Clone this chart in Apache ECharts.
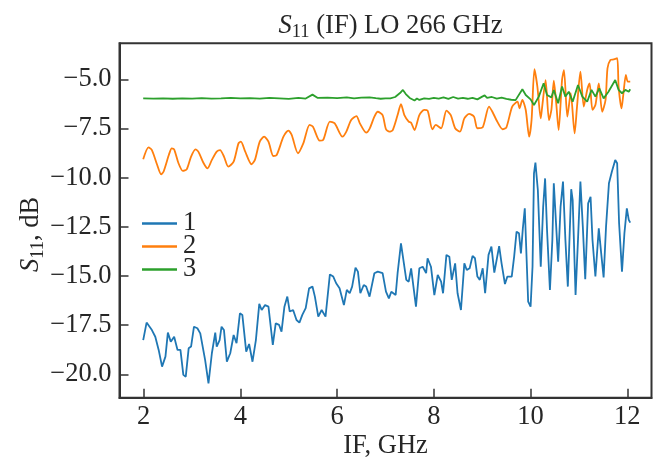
<!DOCTYPE html>
<html>
<head>
<meta charset="utf-8">
<script src="https://cdn.jsdelivr.net/npm/echarts@6/dist/echarts.min.js"></script>
<style>html,body{margin:0;padding:0;background:#fff;}#c{width:656px;height:460px;}</style>
</head>
<body>
<div id="c"></div>
<script>
// ---- data ----
const xTicks = [2, 4, 6, 8, 10, 12];
const yTicks = [-20, -17.5, -15, -12.5, -10, -7.5, -5];
const seriesNames = ['1', '2', '3'];

const x1 = [1.99,2.06,2.10,2.17,2.24,2.31,2.38,2.45,2.50,2.56,2.63,2.70,2.76,2.82,2.87,2.93,2.98,3.04,3.11,3.17,3.27,3.34,3.41,3.48,3.51,3.57,3.61,3.66,3.72,3.79,3.86,3.92,3.99,4.04,4.12,4.18,4.25,4.32,4.39,4.44,4.51,4.58,4.67,4.73,4.80,4.85,4.91,4.97,5.02,5.09,5.16,5.22,5.28,5.35,5.42,5.49,5.54,5.61,5.68,5.76,5.85,5.92,5.98,6.05,6.14,6.20,6.26,6.31,6.38,6.43,6.48,6.55,6.60,6.67,6.77,6.84,6.94,7.01,7.07,7.12,7.21,7.25,7.32,7.36,7.43,7.48,7.53,7.56,7.63,7.70,7.77,7.84,7.87,7.94,8.01,8.08,8.15,8.19,8.26,8.32,8.37,8.44,8.49,8.56,8.63,8.68,8.74,8.80,8.85,8.90,8.95,9.01,9.06,9.13,9.19,9.25,9.29,9.35,9.40,9.47,9.52,9.61,9.66,9.71,9.76,9.80,9.84,9.88,9.91,9.95,10.00,10.04,10.07,10.10,10.15,10.21,10.26,10.30,10.34,10.40,10.45,10.48,10.52,10.57,10.62,10.67,10.72,10.77,10.84,10.87,10.93,10.98,11.03,11.08,11.13,11.19,11.24,11.28,11.34,11.41,11.46,11.51,11.56,11.62,11.65,11.68,11.75,11.79,11.83,11.89,11.94,11.99,12.03,12.06];
const y1 = [-18.26,-17.37,-17.32,-17.75,-18.09,-18.76,-19.61,-19.10,-17.88,-18.34,-18.09,-18.76,-18.76,-20.03,-20.12,-18.68,-18.59,-17.58,-17.66,-17.92,-19.27,-20.46,-18.93,-17.88,-18.59,-18.26,-17.58,-17.75,-19.36,-18.93,-18.00,-18.42,-16.90,-16.98,-18.85,-18.46,-19.36,-18.26,-16.42,-16.73,-16.48,-16.56,-18.51,-17.41,-17.49,-17.83,-16.56,-16.05,-16.81,-16.73,-17.24,-17.37,-16.98,-16.64,-15.63,-15.54,-16.05,-17.07,-16.73,-17.07,-14.92,-15.03,-15.37,-15.63,-16.48,-15.71,-15.88,-15.54,-14.58,-14.78,-15.88,-15.46,-15.54,-16.05,-14.86,-14.78,-14.86,-15.80,-16.14,-15.80,-15.97,-14.86,-13.34,-13.37,-15.20,-15.29,-14.61,-14.70,-16.56,-14.61,-14.53,-14.86,-14.10,-14.53,-15.97,-14.95,-15.29,-15.88,-13.93,-14.02,-15.20,-14.36,-15.88,-16.73,-14.36,-14.70,-14.61,-13.98,-14.10,-15.03,-15.20,-14.61,-15.88,-13.93,-13.51,-14.83,-14.78,-13.48,-14.36,-15.41,-15.03,-15.03,-14.02,-12.75,-12.83,-13.85,-12.58,-11.56,-11.48,-16.31,-16.56,-14.53,-9.78,-9.24,-10.63,-14.53,-11.48,-10.04,-12.66,-15.71,-13.17,-10.29,-10.29,-14.27,-11.48,-10.20,-13.17,-15.54,-10.59,-11.14,-15.97,-13.17,-10.20,-12.49,-15.17,-11.31,-10.97,-13.17,-15.03,-12.58,-13.85,-15.07,-12.49,-10.29,-10.20,-9.70,-9.10,-9.27,-12.32,-14.78,-12.83,-11.56,-12.15,-12.29];

const x2 = [1.99,2.10,2.17,2.28,2.36,2.41,2.52,2.58,2.63,2.72,2.81,2.89,2.98,3.07,3.13,3.24,3.32,3.41,3.51,3.58,3.66,3.75,3.86,3.96,4.01,4.10,4.23,4.30,4.40,4.49,4.58,4.68,4.75,4.89,4.99,5.06,5.19,5.30,5.43,5.50,5.64,5.71,5.85,5.95,6.11,6.19,6.29,6.40,6.47,6.60,6.67,6.77,6.84,6.94,7.01,7.08,7.15,7.25,7.32,7.39,7.48,7.53,7.60,7.70,7.80,7.87,7.97,8.04,8.15,8.26,8.35,8.44,8.54,8.63,8.73,8.83,8.90,9.01,9.14,9.21,9.31,9.42,9.50,9.62,9.73,9.77,9.83,9.90,9.97,10.02,10.08,10.14,10.21,10.24,10.31,10.38,10.43,10.48,10.53,10.58,10.65,10.69,10.76,10.83,10.91,10.96,11.03,11.10,11.17,11.22,11.28,11.34,11.41,11.48,11.55,11.59,11.65,11.72,11.79,11.82,11.88,11.92,11.97,12.01,12.06];
const y2 = [-9.07,-8.46,-8.60,-9.36,-9.83,-9.70,-8.85,-8.51,-8.56,-9.27,-9.66,-9.58,-8.93,-8.56,-8.68,-9.27,-9.53,-9.10,-8.68,-8.60,-8.93,-9.44,-9.19,-8.26,-8.17,-8.68,-9.32,-9.10,-8.17,-7.92,-8.17,-8.90,-8.85,-7.92,-7.61,-7.83,-8.76,-8.26,-7.32,-7.41,-8.12,-8.09,-7.15,-7.24,-7.92,-7.66,-7.07,-6.87,-7.24,-7.71,-7.52,-6.90,-6.65,-6.82,-7.54,-7.66,-7.58,-6.82,-6.26,-6.82,-7.15,-7.21,-7.58,-6.82,-6.56,-6.59,-7.54,-7.32,-7.49,-6.59,-6.82,-7.49,-7.66,-6.99,-6.76,-6.90,-7.49,-7.44,-6.39,-6.65,-7.15,-7.54,-7.44,-6.39,-6.14,-6.48,-6.05,-6.56,-7.92,-7.07,-4.49,-5.37,-6.99,-6.39,-5.04,-7.07,-6.56,-5.07,-6.22,-7.58,-5.04,-4.53,-6.90,-5.71,-7.75,-6.39,-4.61,-6.39,-5.54,-5.21,-6.56,-6.31,-5.21,-6.65,-6.05,-4.44,-4.02,-3.99,-3.93,-5.37,-6.48,-5.71,-4.78,-5.12,-5.12];

const x3 = [1.99,2.2,2.4,2.6,2.8,3.0,3.2,3.4,3.6,3.8,4.0,4.2,4.4,4.6,4.8,5.0,5.2,5.35,5.49,5.6,5.8,6.0,6.2,6.35,6.5,6.67,6.8,6.9,7.0,7.1,7.2,7.3,7.36,7.42,7.5,7.6,7.65,7.7,7.8,7.9,8.0,8.1,8.2,8.3,8.4,8.5,8.6,8.7,8.8,8.9,9.0,9.05,9.1,9.2,9.3,9.4,9.5,9.6,9.69,9.83,9.90,10.00,10.07,10.17,10.27,10.34,10.43,10.48,10.57,10.65,10.72,10.79,10.87,10.98,11.07,11.17,11.26,11.34,11.42,11.51,11.61,11.75,11.82,11.89,11.96,12.03,12.06];
const y3 = [-5.97,-5.98,-5.97,-5.99,-5.97,-5.98,-5.96,-5.98,-5.97,-5.95,-5.97,-5.96,-5.98,-5.94,-5.97,-6.00,-5.95,-5.98,-5.78,-5.95,-5.93,-5.96,-5.92,-5.97,-5.93,-5.92,-5.96,-5.99,-5.97,-5.97,-5.90,-5.70,-5.54,-5.75,-5.95,-6.08,-5.98,-6.05,-5.97,-6.00,-5.95,-5.98,-5.92,-6.00,-5.90,-5.98,-5.95,-5.99,-5.94,-6.02,-5.88,-5.82,-5.95,-5.90,-5.98,-5.93,-6.00,-6.04,-6.06,-5.51,-5.80,-6.02,-6.31,-5.88,-5.20,-5.80,-5.92,-5.54,-6.22,-5.37,-5.88,-5.63,-6.14,-5.29,-5.88,-6.14,-5.54,-5.88,-5.46,-5.97,-5.63,-5.04,-5.54,-5.71,-5.54,-5.63,-5.51];

// ---- chart ----
const FONT = '"Liberation Serif", "Times New Roman", serif';
const TXT = '#262626';
const FS = 26.5;
const SUB = 18.5;
const colors = ['#1f77b4', '#ff7f0e', '#2ca02c'];
const zip = (xs, ys) => xs.map((x, i) => [x, ys[i]]);
const fmtY = v => v.toFixed(1).replace('-', '\u2212');
const richS = {
  s: {fontFamily: FONT, fontSize: FS, fontStyle: 'italic', fontWeight: 'normal', color: TXT, lineHeight: 32},
  sub: {fontFamily: FONT, fontSize: SUB, fontWeight: 'normal', color: TXT, verticalAlign: 'bottom', lineHeight: 32, padding: [12, 0, 0, 0]},
  n: {fontFamily: FONT, fontSize: FS, fontWeight: 'normal', color: TXT, lineHeight: 32}
};

const chart = echarts.init(document.getElementById('c'), null, {renderer: 'canvas'});
chart.setOption({
  animation: false,
  backgroundColor: '#fff',
  color: colors,
  title: {
    text: '{s|S}{sub|11}{n| (IF) LO 266 GHz}',
    left: 385.5, top: 5, textAlign: 'center',
    textStyle: {fontWeight: 'normal', rich: richS}
  },
  grid: {left: 119.5, right: 4.5, top: 43.3, bottom: 62.3, containLabel: false, outerBoundsMode: 'none', show: true, borderColor: '#333', borderWidth: 2, backgroundColor: 'transparent'},
  legend: {
    orient: 'vertical', left: 137, top: 205,
    itemWidth: 35, itemHeight: 2.5, itemGap: -4, icon: 'rect',
    textStyle: {fontFamily: FONT, fontSize: FS, color: TXT, padding: [0,0,0,1]},
    data: seriesNames
  },
  xAxis: {
    type: 'value', min: 1.5, max: 12.5,
    name: 'IF, GHz', nameLocation: 'middle', nameGap: 35, nameMoveOverlap: false,
    nameTextStyle: {fontFamily: FONT, fontSize: FS, color: TXT},
    splitLine: {show: false},
    axisLine: {show: true, lineStyle: {color: '#333', width: 2}},
    axisTick: {show: true, inside: true, length: 9, lineStyle: {color: '#333', width: 1.5}, customValues: xTicks},
    axisLabel: {fontFamily: FONT, fontSize: FS, color: TXT, margin: 6, customValues: xTicks, formatter: v => String(v)}
  },
  yAxis: {
    type: 'value', min: -21.19, max: -3.17,
    name: '{s|S}{sub|11}{n|, dB}', nameLocation: 'middle', nameGap: 72, nameRotate: 90, nameMoveOverlap: false,
    nameTextStyle: {rich: richS, padding: [0, 28, 0, 0]},
    splitLine: {show: false},
    axisLine: {show: true, lineStyle: {color: '#333', width: 2}},
    axisTick: {show: true, inside: true, length: 9, lineStyle: {color: '#333', width: 1.5}, customValues: yTicks},
    axisLabel: {fontFamily: FONT, fontSize: FS, color: TXT, margin: 8, customValues: yTicks, formatter: v => fmtY(v)}
  },
  series: [
    {name: seriesNames[0], type: 'line', data: zip(x1, y1), showSymbol: false, symbol: 'none', lineStyle: {width: 1.8, color: colors[0]}, z: 3},
    {name: seriesNames[1], type: 'line', data: zip(x2, y2), showSymbol: false, symbol: 'none', smooth: 0.25, lineStyle: {width: 1.8, color: colors[1]}, z: 4},
    {name: seriesNames[2], type: 'line', data: zip(x3, y3), showSymbol: false, symbol: 'none', lineStyle: {width: 1.8, color: colors[2]}, z: 5}
  ]
});
</script>
</body>
</html>
